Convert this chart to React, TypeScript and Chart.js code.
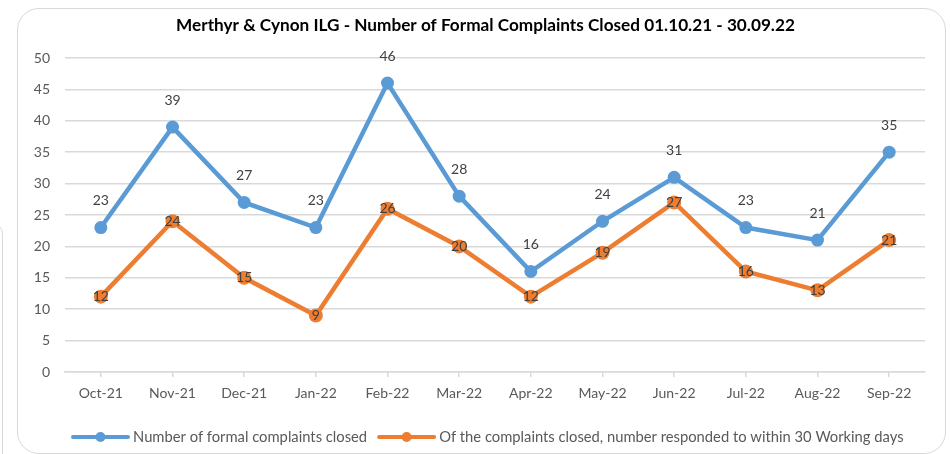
import React, { useEffect, useRef } from "react";
import { Chart, registerables } from "chart.js";

Chart.register(...registerables);

const categories = ["Oct-21", "Nov-21", "Dec-21", "Jan-22", "Feb-22", "Mar-22", "Apr-22", "May-22", "Jun-22", "Jul-22", "Aug-22", "Sep-22"];
const closedValues = [23, 39, 27, 23, 46, 28, 16, 24, 31, 23, 21, 35];
const within30Values = [12, 24, 15, 9, 26, 20, 12, 19, 27, 16, 13, 21];
const seriesNames = ["Number of formal complaints closed", "Of the complaints closed, number responded to within 30 Working days"];
const titleText = "Merthyr & Cynon ILG - Number of Formal Complaints Closed 01.10.21 - 30.09.22";

const FONT = "Lato, 'Noto Sans', sans-serif";
const BLUE = "#5B9BD5";
const ORANGE = "#ED7D31";

const extrasPlugin = {
  id: "extras",
  afterDatasetsDraw(chart: any) {
    const ctx = chart.ctx;
    ctx.save();
    // data labels
    ctx.font = `14px ${FONT}`;
    ctx.fillStyle = "#404040";
    ctx.textAlign = "center";
    ctx.textBaseline = "middle";
    chart.data.datasets.forEach((ds: any, di: number) => {
      const meta = chart.getDatasetMeta(di);
      meta.data.forEach((pt: any, i: number) => {
        const v = ds.data[i];
        const y = di === 0 ? pt.y - 27 : pt.y;
        ctx.fillText(String(v), pt.x, y);
      });
    });
    // title
    ctx.font = `bold 17.2px ${FONT}`;
    ctx.fillStyle = "#000000";
    ctx.fillText(titleText, 485.5, 25);
    // legend
    ctx.font = `14.75px ${FONT}`;
    const lineLen = 55;
    const gap = 5;
    const itemGap = 12;
    const colors = [BLUE, ORANGE];
    const widths = seriesNames.map((n) => ctx.measureText(n).width);
    let x = 73;
    const y = 437;
    seriesNames.forEach((n, i) => {
      ctx.strokeStyle = colors[i];
      ctx.lineWidth = 4;
      ctx.lineCap = "round";
      ctx.beginPath();
      ctx.moveTo(x, y);
      ctx.lineTo(x + lineLen, y);
      ctx.stroke();
      ctx.fillStyle = colors[i];
      ctx.beginPath();
      ctx.arc(x + lineLen / 2, y, 5, 0, Math.PI * 2);
      ctx.fill();
      ctx.fillStyle = "#595959";
      ctx.textAlign = "left";
      ctx.fillText(n, x + lineLen + gap, y);
      x += lineLen + gap + widths[i] + itemGap;
    });
    ctx.restore();
  },
};

export default function App() {
  const ref = useRef<HTMLCanvasElement | null>(null);
  useEffect(() => {
    if (!ref.current) return;
    const chart = new Chart(ref.current, {
      type: "line",
      data: {
        labels: categories,
        datasets: [
          {
            label: seriesNames[0],
            data: closedValues,
            borderColor: BLUE,
            backgroundColor: BLUE,
            borderWidth: 4.5,
            pointRadius: 6.5,
            pointBorderWidth: 0,
            pointBackgroundColor: BLUE,
            tension: 0,
          },
          {
            label: seriesNames[1],
            data: within30Values,
            borderColor: ORANGE,
            backgroundColor: ORANGE,
            borderWidth: 4.5,
            pointRadius: 7,
            pointBorderWidth: 0,
            pointBackgroundColor: ORANGE,
            tension: 0,
          },
        ],
      },
      options: {
        animation: false,
        responsive: false,
        maintainAspectRatio: false,
        layout: { padding: { top: 58, right: 25, left: 0, bottom: 0 } },
        plugins: {
          legend: { display: false },
          title: { display: false },
          tooltip: { enabled: false },
        },
        scales: {
          x: {
            offset: true,
            grid: { drawOnChartArea: false, drawTicks: true, tickLength: 5, color: "#d9d9d9", lineWidth: 1.5 },
            border: { color: "#d9d9d9", width: 1.5 },
            ticks: { color: "#595959", font: { family: FONT, size: 14 }, padding: 8, maxRotation: 0 },
            afterFit: (s: any) => {
              s.height = 82;
            },
          },
          y: {
            min: 0,
            max: 50,
            ticks: { stepSize: 5, color: "#595959", font: { family: FONT, size: 14 }, padding: 15 },
            grid: { color: "#d9d9d9", lineWidth: 1.5, drawTicks: false },
            border: { display: false },
            afterFit: (s: any) => {
              s.width = 65;
            },
          },
        },
      },
      plugins: [extrasPlugin],
    });
    return () => chart.destroy();
  }, []);

  return (
    <div style={{ position: "fixed", left: 0, top: 0, width: 950, height: 454, background: "#fff", overflow: "hidden" }}>
      <div
        style={{
          position: "absolute",
          left: -100,
          top: 222,
          width: 101,
          height: 300,
          border: "1.5px solid #d9d9d9",
          borderRadius: 12,
        }}
      />
      <div
        style={{
          position: "absolute",
          left: 17,
          top: 8,
          width: 929,
          height: 446,
          border: "1.5px solid #d9d9d9",
          borderRadius: 22,
          boxSizing: "border-box",
        }}
      />
      <canvas ref={ref} width={950} height={454} style={{ position: "absolute", left: 0, top: 0, width: 950, height: 454 }} />
    </div>
  );
}
